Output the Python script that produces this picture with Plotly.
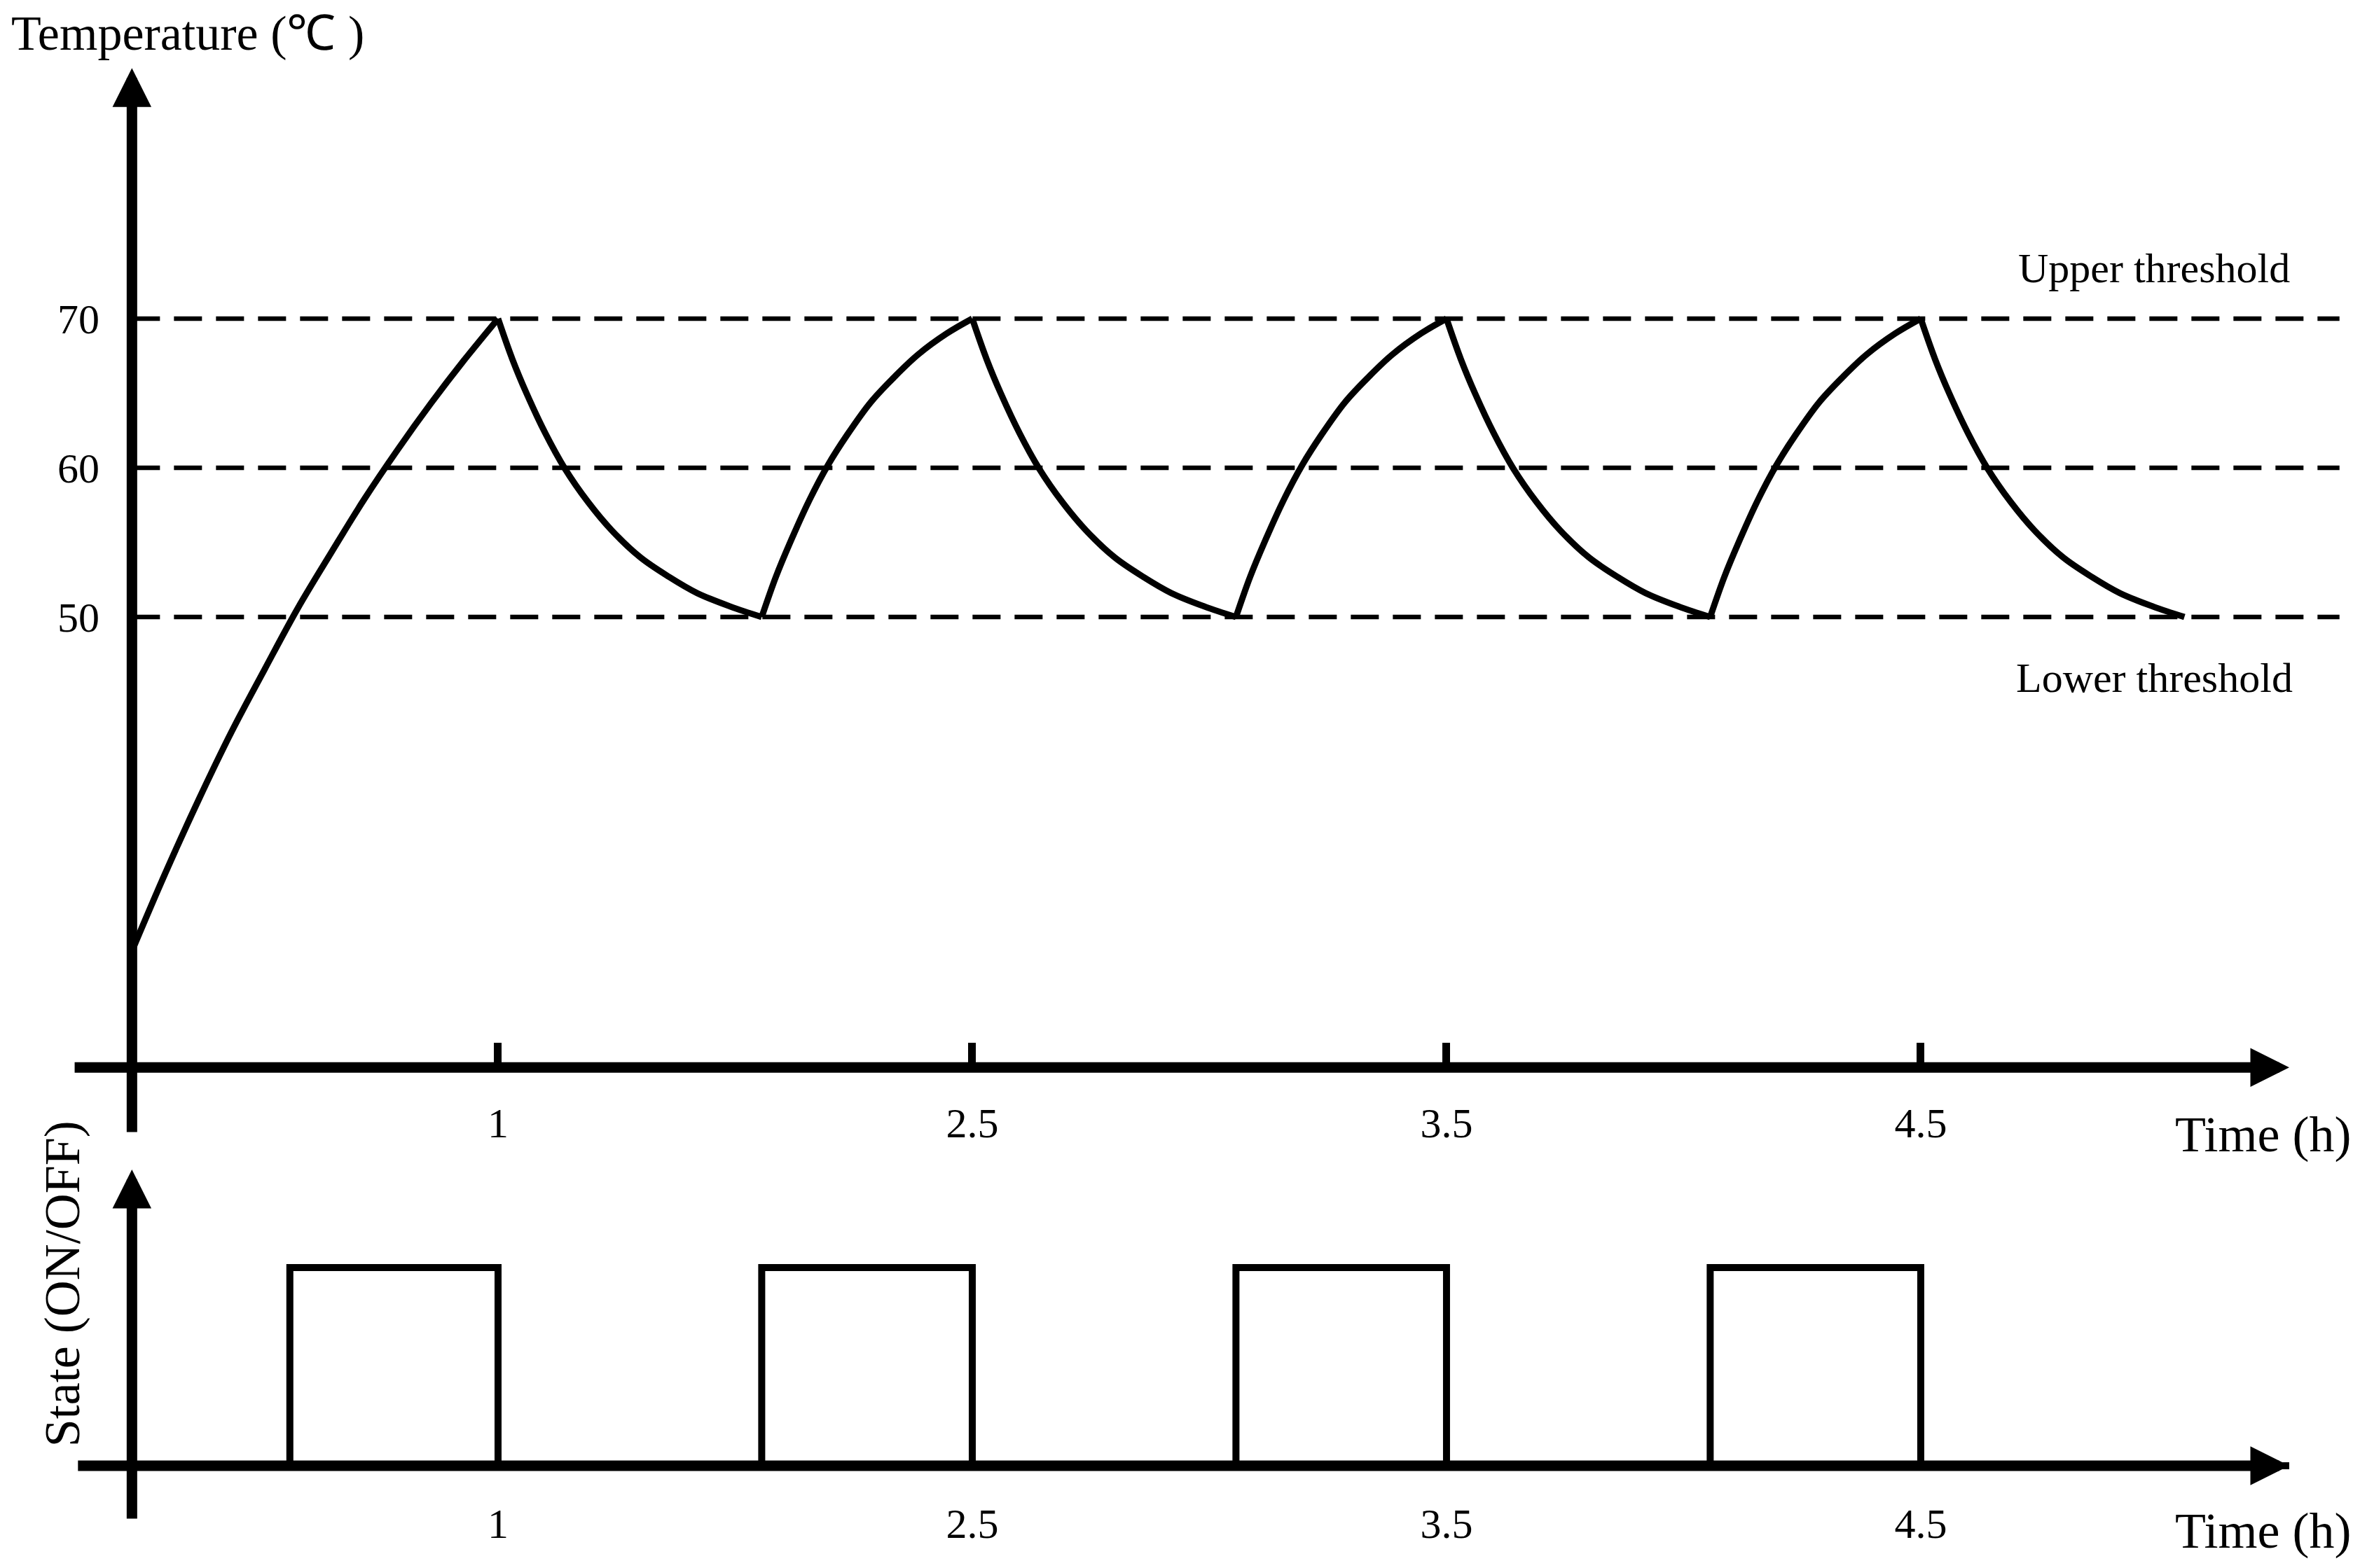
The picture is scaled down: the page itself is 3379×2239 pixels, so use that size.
import plotly.graph_objects as go

# schematic time axis: y axis sits at 0.228, labelled ticks at 1..4
tick_pos = [1, 2, 3, 4]
tick_text = ["1", "2.5", "3.5", "4.5"]

temp_ticks = [50, 60, 70]
thresholds = [50, 60, 70]

# temperature curve (heating / cooling segments)
temp_time = [
    0.228, 0.298, 0.368, 0.438, 0.508, 0.578, 0.648, 0.718, 0.788, 0.858, 0.928, 1.000,
    1.030, 1.060, 1.100, 1.140, 1.190, 1.240, 1.300, 1.360, 1.420, 1.490, 1.556,
    1.586, 1.616, 1.656, 1.696, 1.736, 1.786, 1.836, 1.886, 1.946, 2.000,
    2.030, 2.060, 2.100, 2.140, 2.190, 2.240, 2.300, 2.360, 2.420, 2.490, 2.556,
    2.586, 2.616, 2.656, 2.696, 2.736, 2.786, 2.836, 2.886, 2.946, 3.000,
    3.030, 3.060, 3.100, 3.140, 3.190, 3.240, 3.300, 3.360, 3.420, 3.490, 3.556,
    3.586, 3.616, 3.656, 3.696, 3.736, 3.786, 3.836, 3.886, 3.946, 4.000,
    4.030, 4.060, 4.100, 4.140, 4.190, 4.240, 4.300, 4.360, 4.420, 4.490, 4.556,
]
temp_c = [
    27.6, 32.8, 37.7, 42.3, 46.5, 50.6, 54.3, 57.9, 61.2, 64.3, 67.2, 70.0,
    67.3, 65.0, 62.3, 60.0, 57.7, 55.8, 54.0, 52.7, 51.6, 50.7, 50.0,
    52.7, 55.0, 57.8, 60.2, 62.2, 64.4, 66.1, 67.6, 69.0, 70.0,
    67.3, 65.0, 62.3, 60.0, 57.7, 55.8, 54.0, 52.7, 51.6, 50.7, 50.0,
    52.7, 55.0, 57.8, 60.2, 62.2, 64.4, 66.1, 67.6, 69.0, 70.0,
    67.3, 65.0, 62.3, 60.0, 57.7, 55.8, 54.0, 52.7, 51.6, 50.7, 50.0,
    52.7, 55.0, 57.8, 60.2, 62.2, 64.4, 66.1, 67.6, 69.0, 70.0,
    67.3, 65.0, 62.3, 60.0, 57.7, 55.8, 54.0, 52.7, 51.6, 50.7, 50.0,
]

# heater state (ON = 1)
state_time = [0.228, 0.561, 1.000, 1.556, 2.000, 2.556, 3.000, 3.556, 4.000, 4.777]
state_val = [0, 1, 0, 1, 0, 1, 0, 1, 0, 0]

W, H = 3379, 2239
FONT = "Liberation Serif"
Y_AXIS_T = 0.228      # where the vertical axes stand
X_END = 4.777         # arrow tips of time axes
DASH_END = 4.883
TOP_AXIS_T = 19.8     # temperature at which the top time axis is drawn

fig = go.Figure()

# threshold dashed lines
for th in thresholds:
    fig.add_trace(go.Scatter(x=[Y_AXIS_T, DASH_END], y=[th, th], mode="lines",
                             line=dict(color="black", width=6.5, dash="40px,20px"),
                             xaxis="x", yaxis="y", showlegend=False, hoverinfo="skip"))

# split temperature curve into monotone pieces so the corners stay sharp
segs, cur = [], [0]
for i in range(1, len(temp_c)):
    cur.append(i)
    if i < len(temp_c) - 1:
        d1 = temp_c[i] - temp_c[i - 1]
        d2 = temp_c[i + 1] - temp_c[i]
        if d1 * d2 < 0:
            segs.append(cur)
            cur = [i]
segs.append(cur)
for s in segs:
    fig.add_trace(go.Scatter(x=[temp_time[i] for i in s], y=[temp_c[i] for i in s],
                             mode="lines", line=dict(color="black", width=9, shape="spline"),
                             xaxis="x", yaxis="y", showlegend=False, hoverinfo="skip"))

fig.add_trace(go.Scatter(x=state_time, y=state_val, mode="lines",
                         line=dict(color="black", width=10, shape="hv"),
                         xaxis="x2", yaxis="y2", showlegend=False, hoverinfo="skip"))


def arrow(x0, y0, x1, y1, xr, yr):
    return dict(x=x1, y=y1, ax=x0, ay=y0, xref=xr, yref=yr, axref=xr, ayref=yr,
                showarrow=True, arrowhead=2, arrowsize=0.74, arrowwidth=15,
                arrowcolor="black", text="", standoff=0)


def label(text, x, y, xr, yr, size, angle=0, xanchor="center"):
    return dict(text=text, x=x, y=y, xref=xr, yref=yr, showarrow=False,
                textangle=angle, xanchor=xanchor, yanchor="middle",
                font=dict(family=FONT, size=size, color="black"))


annotations = [
    arrow(Y_AXIS_T, 15.4, Y_AXIS_T, 86.8, "x", "y"),
    arrow(0.105, TOP_AXIS_T, X_END, TOP_AXIS_T, "x", "y"),
    arrow(Y_AXIS_T, -0.272, Y_AXIS_T, 1.495, "x2", "y2"),
    arrow(0.112, 0, X_END, 0, "x2", "y2"),
    label("Temperature (℃ )", 0.004, 0.979, "paper", "paper", 70, xanchor="left"),
    label("Upper threshold", 4.492, 73.4, "x", "y", 60),
    label("Lower threshold", 4.492, 45.9, "x", "y", 60),
    label("Time (h)", 4.722, 15.3, "x", "y", 72),
    label("Time (h)", 4.722, -0.33, "x2", "y2", 72),
    label("State (ON/OFF)", 0.0262, 0.181, "paper", "paper", 72, angle=-90),
]

tick_font = dict(family=FONT, size=60, color="black")
xr = [-0.0502, 4.941]
fig.update_layout(
    width=W, height=H, autosize=False,
    margin=dict(l=0, r=0, t=0, b=0),
    paper_bgcolor="white", plot_bgcolor="white",
    showlegend=False,
    annotations=annotations,
    xaxis=dict(domain=[0, 1], range=xr, anchor="free", position=1 - 1525 / H,
               showline=False, showgrid=False, zeroline=False,
               tickvals=tick_pos, ticktext=tick_text, ticks="inside",
               ticklen=36, tickwidth=11, tickcolor="black",
               tickfont=tick_font, ticklabelstandoff=38),
    yaxis=dict(domain=[1 - 1650 / H, 1], range=[13.897, 91.362], anchor="free",
               position=188 / W, showline=False, showgrid=False, zeroline=False,
               tickvals=temp_ticks, ticks="", tickfont=tick_font,
               ticklabelstandoff=46),
    xaxis2=dict(domain=[0, 1], range=xr, anchor="free", position=1 - 2093 / H,
                showline=False, showgrid=False, zeroline=False,
                tickvals=tick_pos, ticktext=tick_text, ticks="",
                tickfont=tick_font, ticklabelstandoff=42),
    yaxis2=dict(domain=[0, 1 - 1650 / H], range=[-0.5159, 1.5654], visible=False),
)

fig.write_html("out.html", config={"displayModeBar": False},
               post_script="document.body.style.margin='0';")
